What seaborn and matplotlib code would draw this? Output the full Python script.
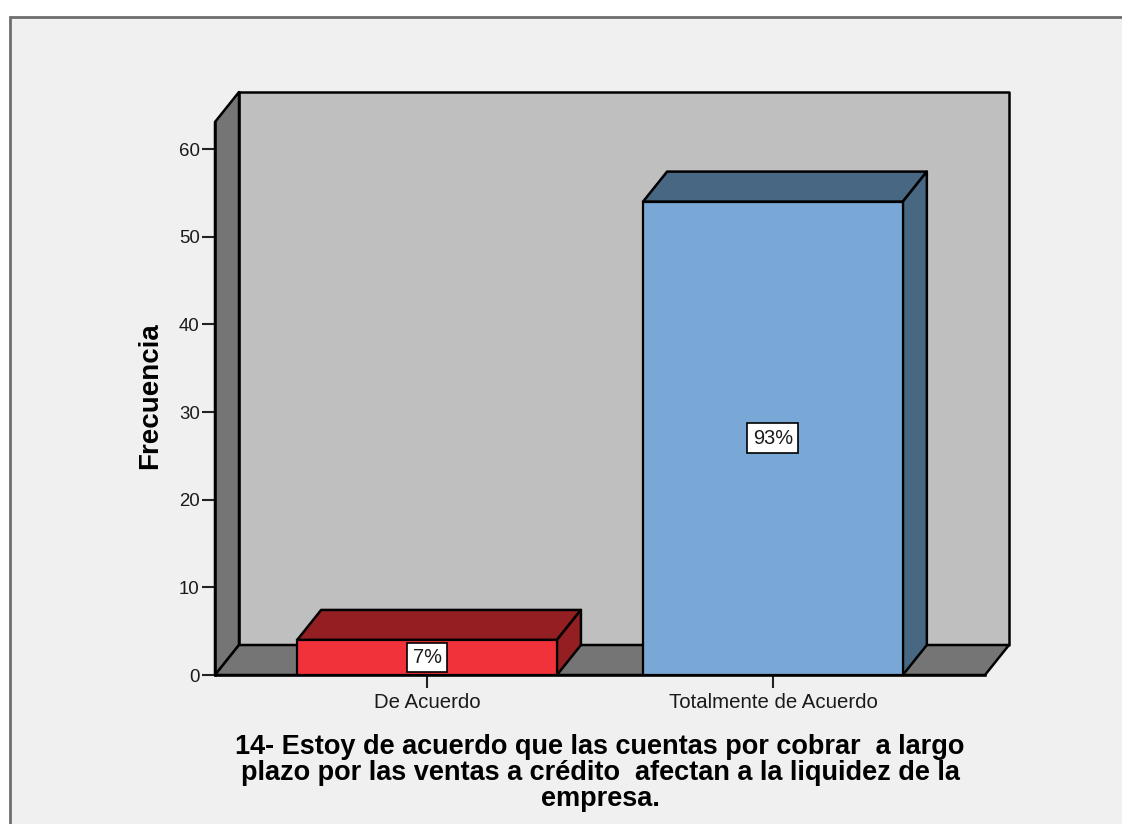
import matplotlib
matplotlib.use('Agg')
import matplotlib.pyplot as plt
import pandas as pd
import seaborn as sns
from matplotlib.patches import Polygon, Rectangle
from matplotlib.transforms import IdentityTransform

categories = ['De Acuerdo', 'Totalmente de Acuerdo']
frecuencia = [4, 54]
porcentajes = ['7%', '93%']
colores = ['#F2323A', '#7AA8D6']
colores_oscuros = ['#931F23', '#486783']
y_ticks = [0, 10, 20, 30, 40, 50, 60]
titulo = ('14- Estoy de acuerdo que las cuentas por cobrar  a largo\n'
          'plazo por las ventas a crédito  afectan a la liquidez de la\n'
          'empresa.')

sns.set_style('white')
plt.rcParams['font.family'] = ['Liberation Sans', 'DejaVu Sans']

W, H = 1122, 824
fig = plt.figure(figsize=(W / 100, H / 100), dpi=100, facecolor='white')
pixeles = IdentityTransform()

#panel gris de fondo
fig.add_artist(Rectangle((10, -5), W, H - 17 + 5, transform=pixeles, facecolor='#F0F0F0',
                         edgecolor='#6E6E6E', linewidth=2, zorder=-1))

ax = fig.add_axes([215 / W, (H - 675) / H, 770 / W, 553 / H])
ax.patch.set_visible(False)

df = pd.DataFrame({'categoria': categories, 'frecuencia': frecuencia})
sns.barplot(data=df, x='categoria', y='frecuencia', hue='categoria', palette=colores,
            width=0.751, dodge=False, legend=False, edgecolor='black', linewidth=1.6,
            saturation=1, zorder=4, ax=ax)

ax.set_xlim(-0.613, 1.613)
ax.set_ylim(0, 63.08)
ax.set_yticks(y_ticks)
ax.tick_params(axis='both', length=9.5, width=1.5, color='#222222', left=True, bottom=True,
               labelcolor='#1A1A1A', pad=1.5)
ax.tick_params(axis='y', labelsize=13.4)
ax.tick_params(axis='x', labelsize=14.7, pad=3.5)
for lado in ['top', 'right']:
    ax.spines[lado].set_visible(False)
for lado in ['left', 'bottom']:
    ax.spines[lado].set_color('black')
    ax.spines[lado].set_linewidth(1.8)
    ax.spines[lado].set_zorder(3)

ax.set_ylabel('Frecuencia', fontsize=20, fontweight='bold', labelpad=11.5, color='black', y=0.506)
ax.set_xlabel(titulo, fontsize=19.5, fontweight='bold', labelpad=15.5, linespacing=1.0, color='black')

#profundidad del efecto 3D, en pixeles
dx, dy = 24, 30


def cara(puntos, color, zorder):
    ax.add_patch(Polygon(puntos, closed=True, transform=pixeles, facecolor=color, edgecolor='black',
                         linewidth=1.8, zorder=zorder, clip_on=False, joinstyle='round'))


fig.canvas.draw()
x0, y0 = ax.transAxes.transform((0, 0))
x1, y1 = ax.transAxes.transform((1, 1))

#paredes y piso
cara([(x0 + dx, y0 + dy), (x1 + dx, y0 + dy), (x1 + dx, y1 + dy), (x0 + dx, y1 + dy)], '#BFBFBF', 1)
cara([(x0, y0), (x0 + dx, y0 + dy), (x0 + dx, y1 + dy), (x0, y1)], '#757575', 2)
cara([(x0, y0), (x1, y0), (x1 + dx, y0 + dy), (x0 + dx, y0 + dy)], '#757575', 2)

#caras superior y lateral de cada barra
for cont, oscuro, etiqueta in zip(ax.containers, colores_oscuros, porcentajes):
    for barra in cont:
        (bx0, by0), (bx1, by1) = ax.transData.transform(barra.get_bbox().get_points())
        cara([(bx0, by1), (bx1, by1), (bx1 + dx, by1 + dy), (bx0 + dx, by1 + dy)], oscuro, 3)
        cara([(bx1, by0), (bx1, by1), (bx1 + dx, by1 + dy), (bx1 + dx, by0 + dy)], oscuro, 3)
    ax.bar_label(cont, labels=[etiqueta], label_type='center', fontsize=14.4, color='#1A1A1A', zorder=6,
                 bbox=dict(boxstyle='square,pad=0.27', facecolor='white', edgecolor='black', linewidth=1.2))

fig.savefig('out.png', dpi=100, facecolor='white')
